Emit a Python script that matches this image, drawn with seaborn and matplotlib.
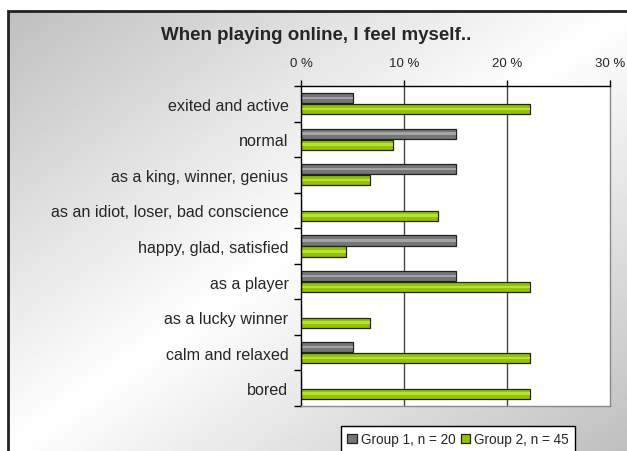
import numpy as np
import pandas as pd
import matplotlib
matplotlib.use('Agg')
import matplotlib.pyplot as plt
from matplotlib.patches import Rectangle
import seaborn as sns

# Datos
categorias = ['exited and active', 'normal', 'as a king, winner, genius',
              'as an idiot, loser, bad conscience', 'happy, glad, satisfied',
              'as a player', 'as a lucky winner', 'calm and relaxed', 'bored']
grupo1 = [5.0, 15.0, 15.0, 0.0, 15.0, 15.0, 0.0, 5.0, 0.0]
grupo2 = [22.2, 8.9, 6.7, 13.3, 4.4, 22.2, 6.7, 22.2, 22.2]
series = ['Group 1, n = 20', 'Group 2, n = 45']
ticks_x = [0, 10, 20, 30]

df = pd.DataFrame({
    'cat': categorias * 2,
    'valor': grupo1 + grupo2,
    'grupo': [series[0]] * len(categorias) + [series[1]] * len(categorias),
})

sns.set_style('white')
plt.rcParams['font.family'] = ['Liberation Sans', 'DejaVu Sans']

W, H = 627, 452
fig = plt.figure(figsize=(W / 100, H / 100), dpi=100)

# ── Fondo con degradado y marco ──────────────────────────────
bg = fig.add_axes([8 / W, 0, 1 - 8 / W, 1 - 12 / H], zorder=0)
xx, yy = np.meshgrid(np.linspace(0, 1, 300), np.linspace(0, 1, 300))
u = xx + yy
val = 1 - np.abs(u - 1)
img = 0.75 + 0.25 * val
bg.imshow(img, cmap='gray', vmin=0, vmax=1, aspect='auto', extent=(0, 1, 1, 0))
bg.set_axis_off()
fig.patches.append(Rectangle((8 / W, -0.1), 1.2, 1 - 12 / H + 0.1,
                             transform=fig.transFigure, fill=False,
                             edgecolor='#222222', linewidth=2, zorder=1))

# ── Gráfico de barras ────────────────────────────────────────
ax = fig.add_axes([301 / W, 1 - 407 / H, (610 - 301) / W, (407 - 87) / H], zorder=2)
ax.set_facecolor('white')
sns.barplot(data=df, y='cat', x='valor', hue='grupo', hue_order=series,
            palette=['#767676', '#92c400'], saturation=1, orient='h',
            width=0.62, gap=0.08, edgecolor='#222222', linewidth=0.9,
            ax=ax, legend=True)

# brillo en el centro de cada barra
brillo = {'#767676': '#a4a4a4', '#92c400': '#b8e03c'}
for p in list(ax.patches):
    if p.get_width() <= 0:
        continue
    fc = matplotlib.colors.to_hex(p.get_facecolor())
    if fc not in brillo:
        continue
    h = p.get_height()
    ax.add_patch(Rectangle((p.get_x(), p.get_y() + h * 0.35), p.get_width(), h * 0.25,
                           facecolor=brillo[fc], edgecolor='none', zorder=p.get_zorder() + 0.1))

ax.set_xlim(0, 30)
ax.set_ylim(len(categorias) - 0.5, -0.5)
ax.xaxis.tick_top()
ax.set_xticks(ticks_x)
ax.set_xticklabels([f'{t} %' for t in ticks_x], fontsize=9.5)
ax.tick_params(axis='x', length=4, width=1, color='black', pad=8.5)
ax.set_yticks(range(len(categorias)))
ax.set_yticklabels(categorias, fontsize=11.6)
ax.tick_params(axis='y', length=0, pad=9)
ax.set_yticks(np.arange(-0.5, len(categorias), 1), minor=True)
ax.tick_params(axis='y', which='minor', length=5, width=1, color='black', left=True)
ax.set_xlabel('')
ax.set_ylabel('')
for x in ticks_x[1:3]:
    ax.axvline(x, color='#444444', linewidth=1, zorder=0)
ax.spines['top'].set_color('black')
ax.spines['left'].set_color('black')
ax.spines['right'].set_color('#888888')
ax.spines['bottom'].set_color('#888888')
for s in ax.spines.values():
    s.set_linewidth(1)

handles, labels = ax.get_legend_handles_labels()
ax.get_legend().remove()
fig.legend(handles, labels, loc='upper left', bbox_to_anchor=(341 / W, 1 - 427 / H),
           ncol=2, fontsize=9.8, frameon=True, fancybox=False, edgecolor='black',
           handlelength=0.7, handleheight=0.7, handletextpad=0.3, columnspacing=0.4,
           borderpad=0.45, borderaxespad=0, framealpha=1)

fig.text(316 / W, 1 - 35 / H, 'When playing online, I feel myself..',
         ha='center', va='center', fontsize=13.5, fontweight='bold')

plt.savefig('out.png', dpi=100)
plt.close()
